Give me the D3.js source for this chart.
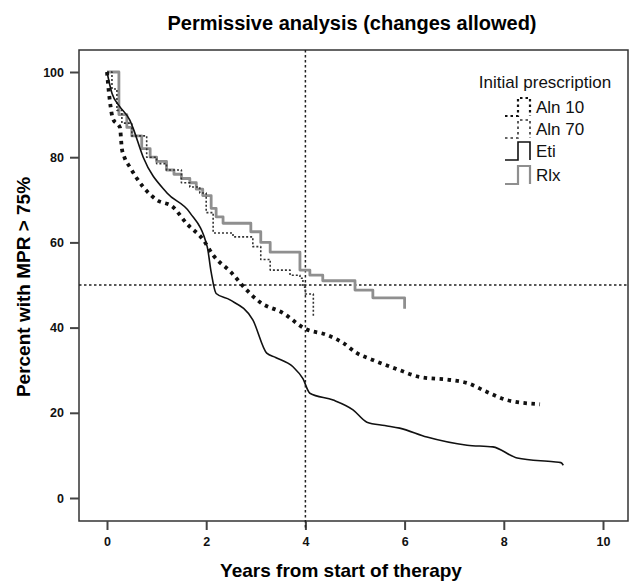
<!DOCTYPE html>
<html><head><meta charset="utf-8">
<script src="https://cdn.jsdelivr.net/npm/d3@7"></script>
<style>body{margin:0;background:#fff}svg{display:block}text{font-family:"Liberation Sans",Arial,sans-serif}</style>
</head><body><svg id="c" width="630" height="582"></svg>
<script>
const xTicks = [0, 2, 4, 6, 8, 10];
const yTicks = [0, 20, 40, 60, 80, 100];
const seriesNames = ["Aln 10", "Aln 70", "Eti", "Rlx"];
const aln10 = [[0,100],[0.04,95],[0.06,93],[0.12,89],[0.26,87],[0.3,82],[0.35,80],[0.46,77.7],[0.73,73],[1.0,70],[1.33,68.3],[1.6,64.5],[1.94,60.6],[2.14,57],[2.5,53],[2.8,49],[3.08,46],[3.55,43.4],[4.0,39.7],[4.43,38.3],[4.76,36.4],[5.04,34],[5.36,32.4],[5.9,30],[6.31,28.4],[6.92,27.7],[7.26,27],[7.66,24.9],[8.06,23],[8.73,22]];
const aln70 = [[0,100],[0.1,96],[0.2,91],[0.3,88],[0.5,85],[0.8,80],[1.0,78.5],[1.2,77],[1.5,74],[1.67,73],[1.87,71.6],[2.0,67],[2.14,62.2],[2.54,61.3],[2.94,59],[3.1,56],[3.29,53.5],[3.69,52.3],[3.89,51.6],[3.95,49.5],[4.0,47.9],[4.16,42.3]];
const eti = [[0,100],[0.1,95],[0.25,92],[0.46,88.7],[0.52,87],[0.73,80],[1.21,71.6],[1.67,67],[2.02,59],[2.1,53],[2.2,48],[2.48,46.5],[2.94,41.8],[3.22,34],[3.4,33],[3.75,30.8],[3.95,28],[4.09,24.6],[4.56,23],[4.96,20.7],[5.24,17.8],[5.6,17],[5.9,16.4],[6.45,14.3],[7.26,12.4],[7.78,12],[8.27,9.4],[9.0,8.5],[9.15,8.3],[9.2,7.7]];
const rlx = [[0,100],[0.24,100],[0.24,90],[0.4,87],[0.5,85],[0.7,82],[0.87,80],[1.0,79],[1.2,77],[1.35,76],[1.5,75],[1.67,74],[1.8,72.5],[1.93,71],[2.1,68],[2.2,66],[2.34,64.5],[2.9,62.5],[3.1,60],[3.29,57.7],[3.89,53.5],[4.09,52.3],[4.35,51],[5.0,48.8],[5.36,47],[6.0,44.4]];
const refX = 4, refY = 50;

const svg = d3.select("#c");
const x = d3.scaleLinear().domain([0,10]).range([107,603]);
const y = d3.scaleLinear().domain([0,100]).range([498,72]);
const L = 79, R = 628, T = 50, B = 521;

const styles = [
  {data: aln10, stroke:"#111", w:3.8, dash:"3.5,4.5", curve:d3.curveMonotoneX},
  {data: aln70, stroke:"#333", w:1.6, dash:"2,2", curve:d3.curveStepAfter},
  {data: eti, stroke:"#111", w:1.6, dash:null, curve:d3.curveMonotoneX},
  {data: rlx, stroke:"#8f8f8f", w:2.8, dash:null, curve:d3.curveStepAfter}
];

svg.append("text").attr("x",352).attr("y",30).attr("text-anchor","middle")
  .style("font-weight","bold").style("font-size","20px").text("Permissive analysis (changes allowed)");

svg.append("path").attr("d",`M${L},${T}H${R}V${B}H${L}Z`).attr("fill","none").attr("stroke","#333").attr("stroke-width",1.5);

const xa = svg.append("g").attr("transform",`translate(0,${B})`)
  .call(d3.axisBottom(x).tickValues(xTicks).tickSize(9).tickPadding(7).tickFormat(d3.format("d")));
const ya = svg.append("g").attr("transform",`translate(${L},0)`)
  .call(d3.axisLeft(y).tickValues(yTicks).tickSize(9).tickPadding(6).tickFormat(d3.format("d")));
[xa,ya].forEach(g=>{
  g.select(".domain").remove();
  g.selectAll(".tick line").attr("stroke","#444").attr("stroke-width",2);
  g.selectAll(".tick text").attr("fill","#111").style("font-size","12.5px").style("font-weight","bold").style("font-family","'Liberation Sans',Arial,sans-serif");
});

svg.append("line").attr("x1",L).attr("x2",R).attr("y1",y(refY)).attr("y2",y(refY))
  .attr("stroke","#222").attr("stroke-width",1.5).attr("stroke-dasharray","2.5,2.5");
svg.append("line").attr("x1",x(refX)).attr("x2",x(refX)).attr("y1",T).attr("y2",B+9)
  .attr("stroke","#222").attr("stroke-width",1.5).attr("stroke-dasharray","2.5,2.5");

[3,1,2,0].forEach(i=>{
  const s = styles[i];
  const line = d3.line().x(d=>x(d[0])).y(d=>y(d[1])).curve(s.curve);
  svg.append("path").attr("d",line(s.data)).attr("fill","none").attr("stroke",s.stroke)
    .attr("stroke-width",s.w).attr("stroke-dasharray",s.dash).attr("stroke-linejoin","round");
});

svg.append("text").attr("x",341).attr("y",577).attr("text-anchor","middle")
  .style("font-weight","bold").style("font-size","19px").text("Years from start of therapy");
svg.append("text").attr("transform","translate(30,287) rotate(-90)").attr("text-anchor","middle")
  .style("font-weight","bold").style("font-size","19px").text("Percent with MPR > 75%");

const lg = svg.append("g");
lg.append("text").attr("x",545).attr("y",88).attr("text-anchor","middle").style("font-size","17px").attr("fill","#111").text("Initial prescription");
const ly = [107,129,151,175];
seriesNames.forEach((n,i)=>{
  const s = styles[i];
  const yb = ly[i]+9, yt = ly[i]-9;
  lg.append("path").attr("d",`M505,${yb}H518V${yt}H530V${yb}`).attr("fill","none").attr("stroke",s.stroke)
    .attr("stroke-width",Math.min(s.w,2.2)).attr("stroke-dasharray",s.dash?"2.5,3":null);
  lg.append("text").attr("x",536).attr("y",ly[i]+6).style("font-size","17px").attr("fill","#111").text(n);
});
</script></body></html>
